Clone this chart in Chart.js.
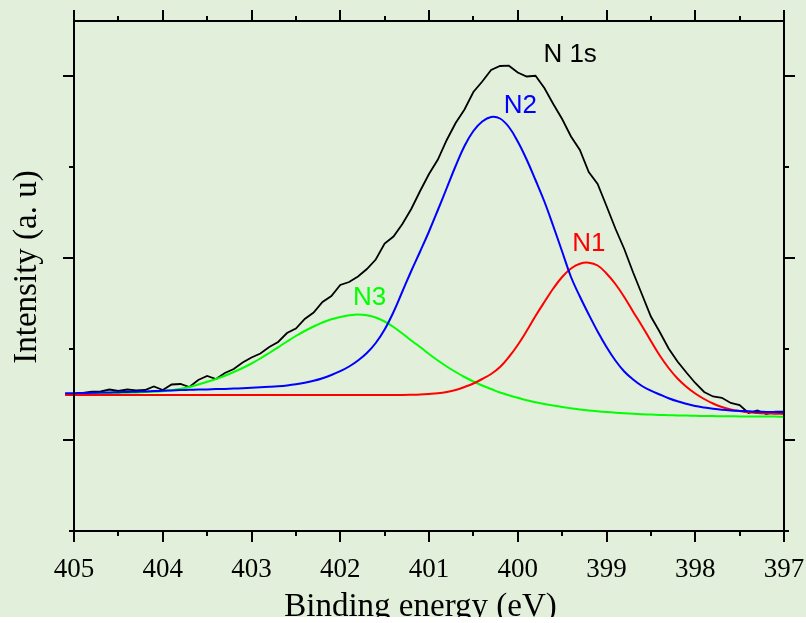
<!DOCTYPE html>
<html>
<head>
<meta charset="utf-8">
<script src="https://cdn.jsdelivr.net/npm/chart.js@4.4.0/dist/chart.umd.min.js"></script>
<style>
  html, body { margin: 0; padding: 0; background: #ffffff; }
  #wrap { width: 806px; height: 617px; background: #e2efda; overflow: hidden; }
  canvas { display: block; }
</style>
</head>
<body>
<div id="wrap"><canvas id="xpsChart" width="806" height="617"></canvas></div>
<script>
"use strict";
// binding energy (eV), 0.1 eV steps
var energy = [
    405.1, 405.0, 404.9, 404.8, 404.7, 404.6, 404.5, 404.4, 404.3, 404.2,
    404.1, 404.0, 403.9, 403.8, 403.7, 403.6, 403.5, 403.4, 403.3, 403.2,
    403.1, 403.0, 402.9, 402.8, 402.7, 402.6, 402.5, 402.4, 402.3, 402.2,
    402.1, 402.0, 401.9, 401.8, 401.7, 401.6, 401.5, 401.4, 401.3, 401.2,
    401.1, 401.0, 400.9, 400.8, 400.7, 400.6, 400.5, 400.4, 400.3, 400.2,
    400.1, 400.0, 399.9, 399.8, 399.7, 399.6, 399.5, 399.4, 399.3, 399.2,
    399.1, 399.0, 398.9, 398.8, 398.7, 398.6, 398.5, 398.4, 398.3, 398.2,
    398.1, 398.0, 397.9, 397.8, 397.7, 397.6, 397.5, 397.4, 397.3, 397.2,
    397.1, 397.0
];

// measured N 1s envelope (a. u)
var n1s = [
    137, 137, 138, 139.3, 139.5, 141.5, 140, 141.5, 140.7, 141,
    144.5, 141, 146.5, 147, 144, 151, 155, 152, 158, 162,
    168.5, 173.5, 177.5, 184, 189, 198, 202.5, 212, 218.5, 229,
    235, 246, 249, 254.5, 262, 271.5, 287.5, 294.5, 307, 322,
    340, 357, 371.5, 391, 408, 421.5, 439, 449.5, 461, 465,
    465.3, 458.5, 454.5, 455.2, 443, 427, 412, 394.5, 381, 359,
    347, 325, 302.5, 282, 258.5, 236.5, 214.5, 199, 182.5, 169.5,
    158.5, 148, 139, 134.5, 133.2, 128, 126, 118, 120.5, 117,
    119.3, 119.3
];

// fitted components
var n1 = [
    136, 136, 136, 136, 136, 136, 136, 136, 136, 136,
    136, 136, 136, 136, 136, 136, 136, 136, 136, 136,
    136, 136, 136, 136, 136, 136, 136, 136, 136, 136,
    136, 136, 136, 136, 136, 136, 136, 136, 136, 136.2,
    136.5, 137, 137.7, 139, 141, 144, 147.5, 152, 157, 164,
    174, 186, 200, 215, 229, 242.5, 254, 262.5, 267.3, 268.3,
    265.5, 257.5, 247, 234, 219.3, 205, 190, 175.5, 163, 152.5,
    144.3, 137.5, 132, 127.5, 124, 121.6, 120, 118.7, 118, 117.6,
    117.3, 117
];

var n2 = [
    137.7, 137.8, 138, 138.2, 138.4, 138.6, 138.8, 139, 139.3, 139.6,
    139.9, 140.3, 140.6, 140.9, 141.2, 141.4, 141.6, 141.9, 142.1, 142.4,
    142.8, 143.2, 143.7, 144.2, 144.8, 145.6, 146.7, 148.2, 150.2, 152.8,
    156, 159.8, 164.5, 170.5, 178, 188, 201.5, 219, 239.5, 260,
    279.5, 299.5, 321, 343, 365, 385, 400, 409.5, 414, 412.5,
    404, 389.5, 371.5, 351, 329.5, 305, 279.5, 254, 234.5, 216.5,
    199.5, 184, 170.5, 159.5, 151.5, 145, 140.3, 136.5, 132.8, 129.7,
    127.2, 125, 123.5, 122.3, 121.3, 120.6, 120.1, 119.7, 119.3, 119.1,
    118.9, 118.7
];

var n3 = [
    136.7, 136.8, 137, 137.2, 137.4, 137.7, 138, 138.3, 138.6, 138.9,
    139.2, 139.8, 140.8, 142.2, 144, 146.5, 149.2, 152, 155.3, 159,
    163, 167.5, 172.5, 178, 183.7, 189.5, 195, 200, 204.5, 208.5,
    211.7, 214, 215.7, 216.5, 215.7, 213.5, 209.5, 204, 197.5, 190.5,
    184, 177, 170.5, 164.5, 159, 154, 149.5, 145.5, 142, 138.5,
    135.7, 133.2, 130.8, 128.8, 127, 125.5, 124, 122.7, 121.5, 120.5,
    119.7, 119, 118.3, 117.7, 117.2, 116.8, 116.4, 116.1, 115.8, 115.6,
    115.4, 115.2, 115, 114.9, 114.8, 114.7, 114.6, 114.5, 114.5, 114.4,
    114.4, 114.3
];

// peak names and where they sit (eV, a. u)
var peakNames = ["N 1s", "N2", "N1", "N3"];
var peakColors = ["#000000", "#0000ff", "#ff0000", "#00ff00"];
var nameX = [399.41, 399.97, 399.2, 401.67];
var nameY = [468.7, 418.3, 280.3, 226];

var xTicks = [397, 397.5, 398, 398.5, 399, 399.5, 400, 400.5, 401, 401.5, 402, 402.5, 403, 403.5, 404, 404.5, 405];
var yTicks = [0, 91, 182, 273, 364, 455];

function toPoints(values) {
    return energy.map(function (e, i) {
        return { x: e, y: values[i] };
    });
}

var framePlugin = {
    id: "frame",
    afterDatasetsDraw: function (chart) {
        var ctx = chart.ctx;
        var a = chart.chartArea;
        var xs = chart.scales.x;
        var ys = chart.scales.y;
        ctx.save();
        ctx.strokeStyle = "#000000";
        ctx.lineWidth = 2;
        ctx.strokeRect(a.left, a.top, a.right - a.left, a.bottom - a.top);

        ctx.beginPath();
        xTicks.forEach(function (v) {
            var px = Math.round(xs.getPixelForValue(v));
            var len = v % 1 === 0 ? 11 : 5;
            ctx.moveTo(px, a.bottom);
            ctx.lineTo(px, a.bottom + len);
            ctx.moveTo(px, a.top);
            ctx.lineTo(px, a.top - len);
        });
        yTicks.forEach(function (v, k) {
            var py = Math.round(ys.getPixelForValue(v));
            var len = k % 2 === 1 ? 11 : 5;
            ctx.moveTo(a.left, py);
            ctx.lineTo(a.left - len, py);
            ctx.moveTo(a.right, py);
            ctx.lineTo(a.right + len, py);
        });
        ctx.stroke();

        // peak names
        ctx.font = "26px 'Liberation Sans', Arial, sans-serif";
        ctx.textAlign = "center";
        ctx.textBaseline = "alphabetic";
        peakNames.forEach(function (name, i) {
            ctx.fillStyle = peakColors[i];
            ctx.fillText(name, xs.getPixelForValue(nameX[i]), ys.getPixelForValue(nameY[i]));
        });

        // axis titles
        ctx.fillStyle = "#000000";
        ctx.font = "33px 'Liberation Serif', 'Times New Roman', serif";
        ctx.fillText("Binding energy (eV)", 420.5, 616);
        ctx.translate(36, 267);
        ctx.rotate(-Math.PI / 2);
        ctx.fillText("Intensity (a. u)", 0, 0);
        ctx.restore();
    }
};

var ctx = document.getElementById("xpsChart").getContext("2d");
var myChart = new Chart(ctx, {
    type: "line",
    data: {
        datasets: [
            {
                label: "N2",
                data: toPoints(n2),
                borderColor: "#0000ff",
                borderWidth: 2,
                tension: 0.4,
            },
            {
                label: "N1",
                data: toPoints(n1),
                borderColor: "#ff0000",
                borderWidth: 2,
                tension: 0.4,
            },
            {
                label: "N3",
                data: toPoints(n3),
                borderColor: "#00ff00",
                borderWidth: 2,
                tension: 0.4,
            },
            {
                label: "N 1s",
                data: toPoints(n1s),
                borderColor: "#000000",
                borderWidth: 1.8,
                tension: 0,
            },
        ],
    },
    options: {
        responsive: false,
        animation: false,
        events: [],
        layout: { padding: { top: 21, right: 22, left: 0, bottom: 0 } },
        elements: {
            point: { radius: 0 },
            line: { fill: false },
        },
        datasets: { line: { clip: false } },
        plugins: {
            legend: { display: false },
            tooltip: { enabled: false },
        },
        scales: {
            x: {
                type: "linear",
                position: "bottom",
                min: 397,
                max: 405,
                reverse: true,
                grid: { display: false, drawTicks: false },
                border: { display: false },
                ticks: {
                    stepSize: 1,
                    autoSkip: false,
                    maxRotation: 0,
                    padding: 23,
                    color: "#000000",
                    font: { family: "'Liberation Serif', 'Times New Roman', serif", size: 27 },
                },
                afterFit: function (scale) {
                    scale.height = 86;
                    scale.paddingLeft = 0;
                    scale.paddingRight = 0;
                },
            },
            y: {
                type: "linear",
                min: 0,
                max: 510,
                grid: { display: false, drawTicks: false },
                border: { display: false },
                ticks: { display: false },
                afterFit: function (scale) {
                    scale.width = 74;
                },
            },
        },
    },
    plugins: [framePlugin],
});
</script>
</body>
</html>
